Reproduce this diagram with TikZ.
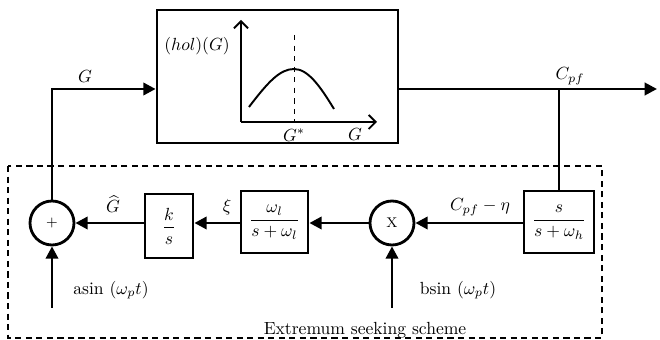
\documentclass[tikz,border=0pt]{standalone}
\usepackage{amsmath}
\usetikzlibrary{arrows.meta,positioning}
\tikzset{
  block/.style={draw,line width=1.6pt,fill=white,minimum width=1.34cm,
    minimum height=1.24cm,inner sep=1pt,align=center},
  junction/.style={draw,circle,line width=1.6pt,minimum size=0.88cm,
    inner sep=0pt,font=\footnotesize},
  sig/.style={-{Triangle[length=7pt,width=7pt]},line width=1.6pt},
  wire/.style={line width=1.6pt},
  axis/.style={-{Straight Barb[length=4pt,width=8pt]},line width=1.1pt},
  frame/.style={line width=0.8pt,dash pattern=on 3.5pt off 2.5pt},
  lbl/.style={inner sep=1pt}
}

\begin{document}
\begin{tikzpicture}[x=0.02cm,y=-0.02cm]
  \useasboundingbox (0,0) rectangle (660,340);
  \draw[frame] (8,166) rectangle (602,338);
  \node[block,minimum width=4.82cm,minimum height=2.66cm] (hol) at (277.5,76.5) {};
  \node[junction] (sum) at (52,223) {+};
  \node[block,minimum width=0.96cm,minimum height=1.28cm] (ks) at (169,226) {$\dfrac{k}{s}$};
  \node[block] (lp) at (274.5,222) {$\dfrac{\omega_l}{s+\omega_l}$};
  \node[junction] (mult) at (392,223) {X};
  \node[block,minimum width=1.4cm] (hp) at (559,222) {$\dfrac{s}{s+\omega_h}$};

  \coordinate (gin) at (52,89);
  \coordinate (tap) at (559,89);
  \coordinate (out) at (657,89);
  \coordinate (ain) at (52,308);
  \coordinate (bin) at (392,308);

  \draw[sig] (sum) |- (hol.west |- gin);
  \draw[sig] (hol.east |- gin) -- (out);
  \draw[wire] (tap) -- (hp);
  \draw[sig] (hp.west |- mult) -- (mult);
  \draw[sig] (mult) -- (lp.east |- mult);
  \draw[sig] (lp.west |- mult) -- (ks.east |- mult);
  \draw[sig] (ks.west |- sum) -- (sum);
  \draw[sig] (ain) -- (sum);
  \draw[sig] (bin) -- (mult);

  \node[lbl] (glab) at (85,77) {$G$};
  \node[lbl] (cpflab) at (570,76) {$C_{pf}$};
  \node[lbl] (ghatlab) at (113,204) {$\widehat{G}$};
  \node[lbl] (xilab) at (227,207) {$\xi$};
  \node[lbl] (errlab) at (480,207) {$C_{pf}-\eta$};
  \node[lbl] (alab) at (111,290) {asin $(\omega_p t)$};
  \node[lbl] (blab) at (458,290) {bsin $(\omega_p t)$};
  \node[lbl] (esc) at (365,330) {Extremum seeking scheme};

  \draw[axis] (241,122) -- (241,20);
  \draw[axis] (241,122) -- (377,122);
  \draw[dashed,thin] (294,35) -- (294,122);
  \draw[line width=1.1pt] (249,107) .. controls (268,82) and (280,69) .. (294,69)
    .. controls (308,69) and (320,86) .. (334,109);
  \node[lbl] (hollab) at (197,46) {$(hol)(G)$};
  \node[lbl] (gstar) at (294,135) {$G^*$};
  \node[lbl] (gaxis) at (355,135) {$G$};
\end{tikzpicture}
\end{document}
